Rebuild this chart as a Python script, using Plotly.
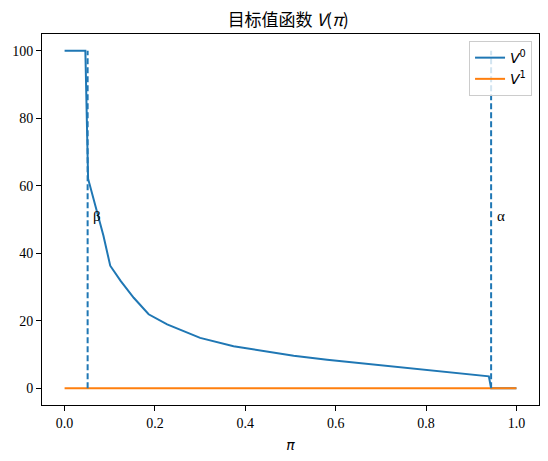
import plotly.graph_objects as go

# belief pi and the two value functions
pi_vals = [0.0, 0.046, 0.052, 0.086, 0.101, 0.124, 0.153, 0.186, 0.227, 0.300,
           0.374, 0.433, 0.507, 0.581, 0.655, 0.728, 0.802, 0.876, 0.939, 0.944, 1.0]
v0_vals = [100, 100, 62.1, 45.2, 36.3, 31.8, 26.8, 21.9, 18.9, 14.9,
           12.4, 11.1, 9.6, 8.4, 7.4, 6.5, 5.5, 4.5, 3.5, 0, 0]
v1_pi = [0.0, 1.0]
v1_vals = [0, 0]

# thresholds
beta = 0.051
alpha = 0.944
threshold_names = ["β", "α"]
threshold_vals = [beta, alpha]

BLUE = "#1f77b4"
ORANGE = "#ff7f0e"

fig = go.Figure()
fig.add_trace(go.Scatter(x=pi_vals, y=v0_vals, mode="lines", name="<i>V</i><sup>0</sup>",
                         line=dict(color=BLUE, width=2)))
fig.add_trace(go.Scatter(x=v1_pi, y=v1_vals, mode="lines", name="<i>V</i><sup>1</sup>",
                         line=dict(color=ORANGE, width=2)))

for name, t in zip(threshold_names, threshold_vals):
    fig.add_trace(go.Scatter(x=[t, t], y=[0, 100], mode="lines", showlegend=False,
                             line=dict(color=BLUE, width=2, dash="6px,3px")))
    fig.add_annotation(x=t + 0.008, y=51, text=name, showarrow=False,
                       xanchor="left", yanchor="middle",
                       font=dict(family="Liberation Serif", size=15, color="black"))

axis_style = dict(showgrid=False, zeroline=False, showline=True, linecolor="black",
                  linewidth=1, mirror=True, ticks="outside", ticklen=5, automargin=False,
                  tickcolor="black", tickfont=dict(family="Liberation Serif", size=14, color="black"))

fig.update_xaxes(range=[-0.05, 1.05], tickvals=[0, 0.2, 0.4, 0.6, 0.8, 1.0],
                 ticktext=["0.0", "0.2", "0.4", "0.6", "0.8", "1.0"],
                 title=dict(text="<i>π</i>", font=dict(family="DejaVu Sans", size=14, color="black"),
                            standoff=10),
                 **axis_style)
fig.update_yaxes(range=[-5, 105], tickvals=[0, 20, 40, 60, 80, 100], **axis_style)

fig.update_layout(
    template="none",
    width=548, height=461,
    margin=dict(l=42, r=9, t=34, b=56, pad=0),
    plot_bgcolor="white", paper_bgcolor="white",
    showlegend=True,
    title=dict(text="目标值函数 <i>V</i>(<i>π</i>)", x=0.526, xanchor="center",
               y=1 - 20 / 461, yref="container", yanchor="middle",
               font=dict(family="Noto Sans CJK SC, DejaVu Sans", size=17, color="black")),
    legend=dict(x=0.986, y=0.981, xanchor="right", yanchor="top",
                bgcolor="rgba(255,255,255,0.8)", bordercolor="#cccccc", borderwidth=1,
                font=dict(family="DejaVu Sans", size=14, color="black")),
)

fig.write_html("out.html", config={"displayModeBar": False},
               post_script="document.body.style.margin='0';")
